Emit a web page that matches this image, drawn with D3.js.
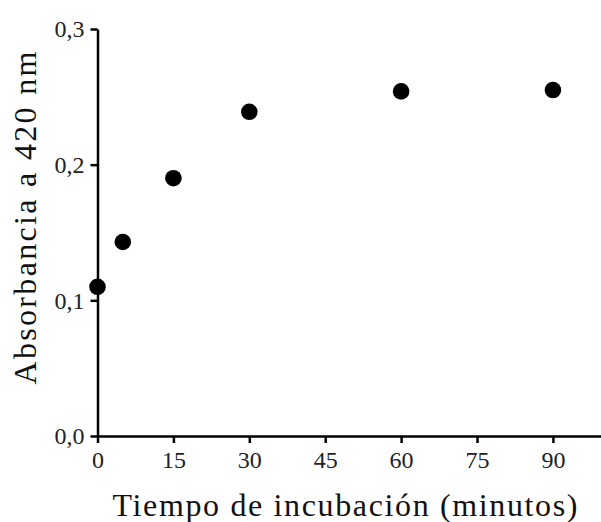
<!DOCTYPE html>
<html lang="es">
  <head>
    <meta charset="UTF-8" />
    <title>Absorbancia</title>
    <style>
      body { margin: 0; background: #fff; }
      #chart { width: 601px; height: 522px; }
      text { font-family: "Liberation Serif", serif; fill: #111; }
    </style>
  </head>
  <body>
    <div id="chart"></div>
    <script src="https://cdn.jsdelivr.net/npm/d3@7"></script>
    <script>
      // data
      var tiempo = [0, 5, 15, 30, 60, 90];
      var absorbancia = [0.11, 0.143, 0.19, 0.239, 0.254, 0.255];
      var xTicks = [0, 15, 30, 45, 60, 75, 90];
      var yTicks = [0, 0.1, 0.2, 0.3];

      var width = 601, height = 522;
      var margin = { left: 97.5, top: 29, right: 0, bottom: 86 };

      var svg = d3.select("#chart").append("svg")
        .attr("width", width)
        .attr("height", height);

      var x = d3.scaleLinear().domain([0, 99.5]).range([margin.left, width]);
      var y = d3.scaleLinear().domain([0, 0.3]).range([height - margin.bottom, margin.top]);

      var fmt = function (d) { return d3.format(".1f")(d).replace(".", ","); };

      var xAxis = svg.append("g")
        .attr("transform", "translate(0," + y(0) + ")")
        .call(d3.axisBottom(x).tickValues(xTicks).tickSize(7).tickSizeOuter(0).tickPadding(8));

      var yAxis = svg.append("g")
        .attr("transform", "translate(" + x(0) + ",0)")
        .call(d3.axisLeft(y).tickValues(yTicks).tickFormat(fmt).tickSize(7).tickSizeOuter(0).tickPadding(6));

      [xAxis, yAxis].forEach(function (a) {
        a.select(".domain").attr("stroke", "#000").attr("stroke-width", 2.5);
        a.selectAll(".tick line").attr("stroke", "#000").attr("stroke-width", 2.5);
        a.selectAll(".tick text")
          .attr("font-size", 24)
          .style("fill", "#222");
      });

      // points
      svg.append("g").selectAll("circle")
        .data(tiempo)
        .join("circle")
        .attr("cx", function (d) { return x(d); })
        .attr("cy", function (d, i) { return y(absorbancia[i]); })
        .attr("r", 8.3)
        .attr("fill", "#000");

      // axis titles
      svg.append("text")
        .attr("x", 345)
        .attr("y", 516)
        .attr("text-anchor", "middle")
        .attr("font-size", 32)
        .attr("textLength", 465)
        .attr("lengthAdjust", "spacing")
        .text("Tiempo de incubación (minutos)");

      svg.append("text")
        .attr("transform", "translate(36,218) rotate(-90)")
        .attr("text-anchor", "middle")
        .attr("font-size", 32)
        .attr("textLength", 333)
        .attr("lengthAdjust", "spacing")
        .text("Absorbancia a 420 nm");
    </script>
  </body>
</html>
